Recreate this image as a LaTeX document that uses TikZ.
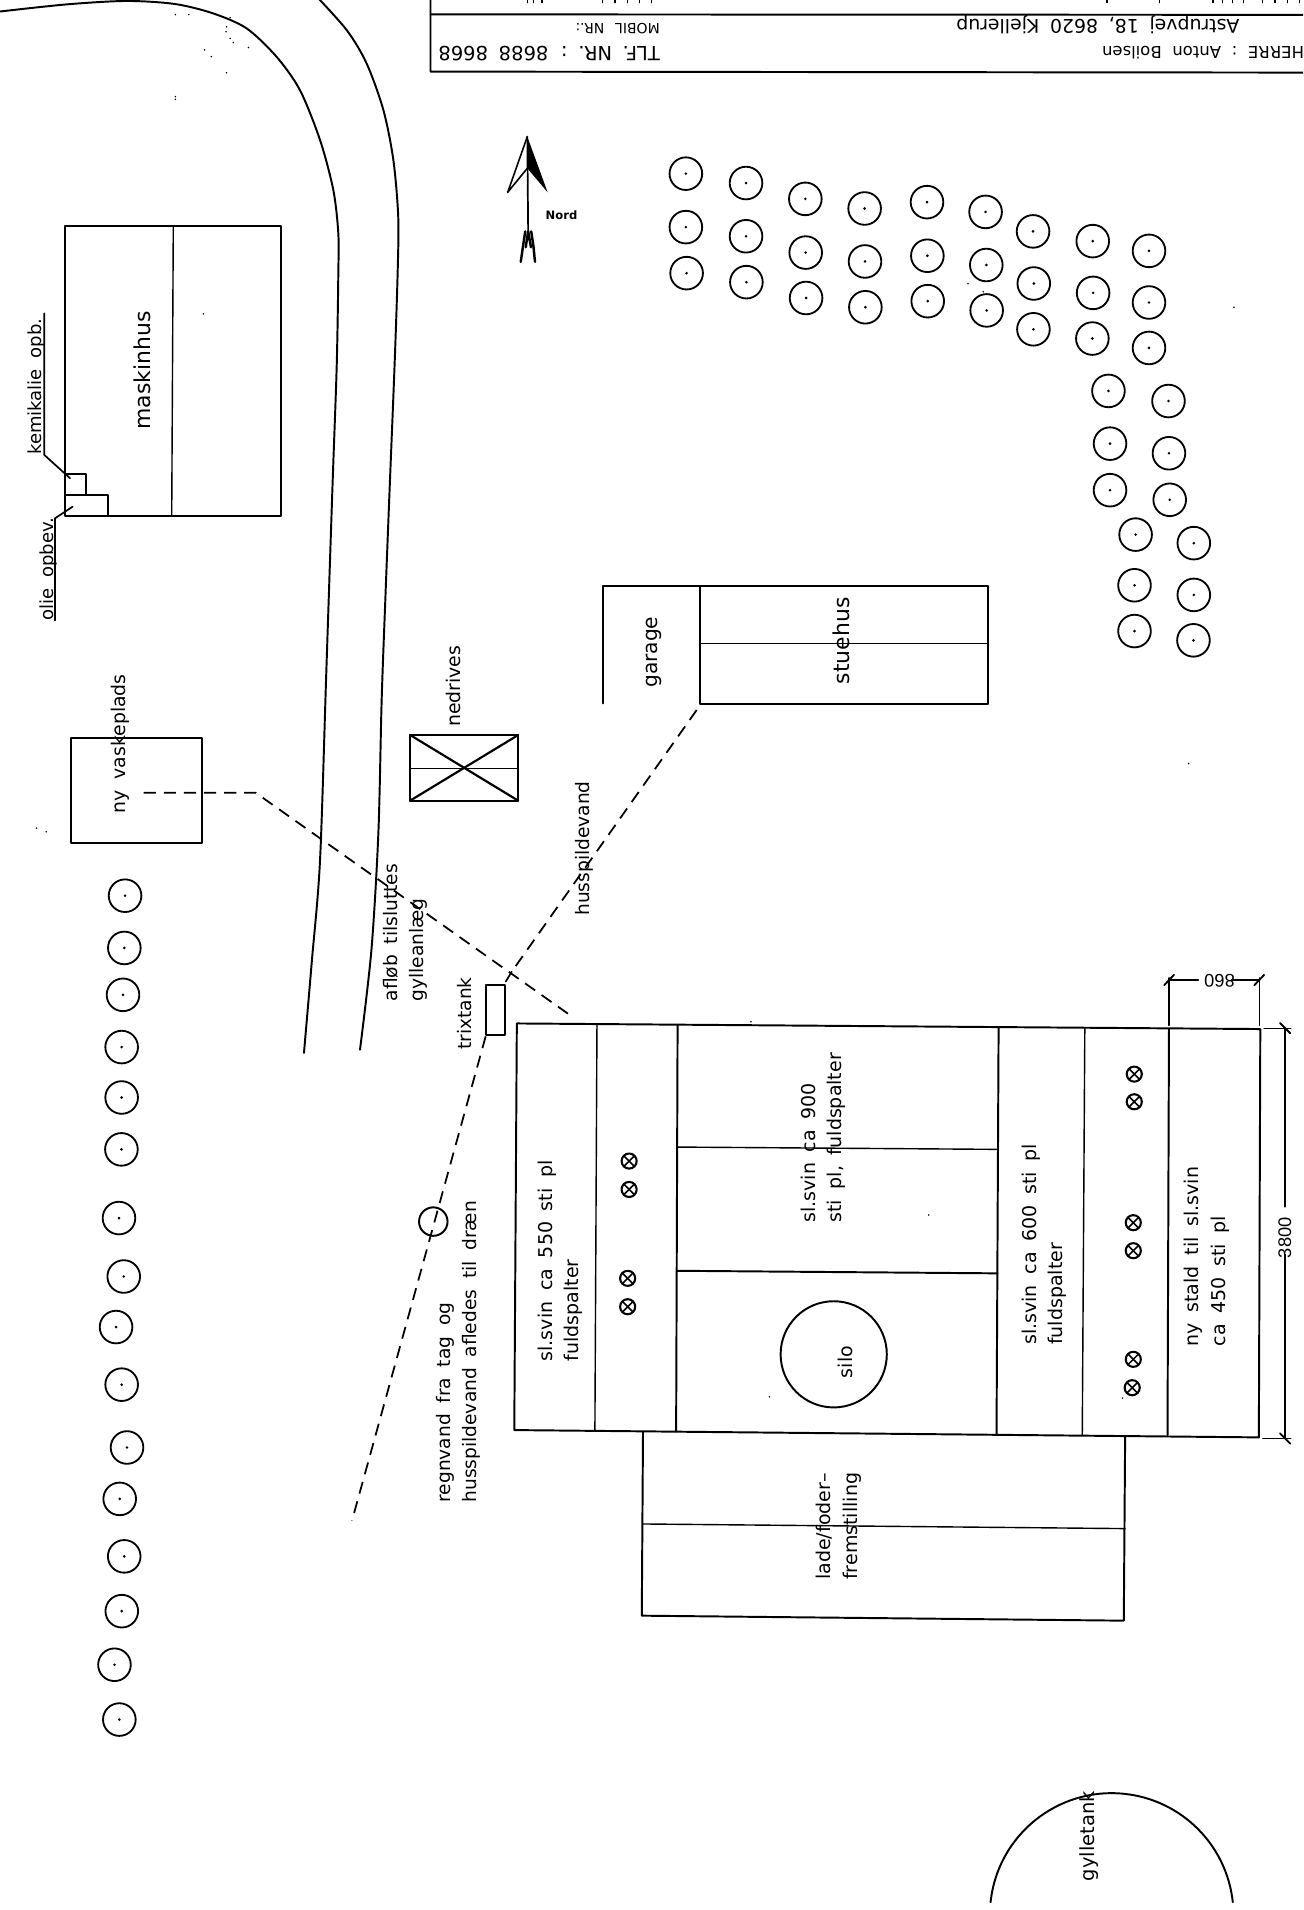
\documentclass[tikz,border=0pt]{standalone}
\usepackage{fontspec}
\setmainfont{DejaVu Sans}
\newfontfamily\dimfont{Liberation Sans}
\begin{document}
\begin{tikzpicture}[x=1pt,y=-1pt,line join=round,line cap=round,
  wall/.style={line width=1.6pt},
  thin wall/.style={line width=1.15pt},
  leader/.style={line width=1.4pt},
  dashline/.style={line width=1.45pt,dash pattern=on 10pt off 6.5pt,line cap=butt},
  rot/.style={rotate=90,anchor=north west,inner sep=0pt,align=left,
    font=\fontsize{#1}{21.6}\selectfont},
  rot/.default=15.6,
  upside/.style={rotate=180,inner sep=0pt,anchor=base west,font=\fontsize{#1}{18}\selectfont},
  dim/.style={inner sep=0pt,font=\dimfont\fontsize{15}{16}\selectfont}]
\spaceskip=8.8pt\relax
\useasboundingbox (0,0) rectangle (1070,1568.4);
\clip (0,0) rectangle (1070,1568.4);

% --- title block
\draw[wall] (353.5,-5) -- (353.5,58.8) -- (1075,59.6);
\draw[wall] (353.5,11.8) -- (1075,12.2);
\node[upside=13.5] (owner) at (1071,38.5) {HERRE : Anton Boilsen};
\node[upside=15.5] (addr) at (1018,16) {Astrupvej 18, 8620 Kjellerup};
\node[upside=16] (tlf) at (542,38) {TLF. NR. : 8688 8668};
\node[upside=11.5] (mobil) at (542,19) {MOBIL NR.:};
\foreach \cx in {433,438,445,495,505,515,525,535,909,952,996,1004,1012,1021,1037,1047,1057,1067}{
  \draw[line width=1pt] (\cx,-1) -- (\cx,2.2);
}

% --- road
\draw[wall] plot[smooth] coordinates {(-3,9.8) (54.7,3.6) (104,0.8) (143.7,3.3) (175,11) (202.5,23.3) (227,46.5) (246.3,74) (262.8,115) (273.7,156) (277.8,191.6) (277.8,225) (276.5,300) (273,400) (268,550) (262.8,706.2) (256,790) (249.6,864.6)};
\draw[wall] plot[smooth] coordinates {(258,-5) (284.6,24.6) (301,52) (314.8,90.3) (323,131.4) (327,178) (326.5,225) (324,300) (320,400) (316.5,490) (313.4,574.8) (310.7,684) (305,780) (295.6,862)};

% --- maskinhus
\draw[wall] (53.6,185.5) rectangle (230.5,423.7);
\draw[thin wall] (142.3,185.5) -- (141,423.7);
\draw[wall] (53.6,389.2) -| (70.6,406.4);
\draw[wall] (53.6,406.4) -- (89,406.4) -- (89,423.7);
\draw[leader] (57.5,392.7) -- (36.4,373.6) -- (36.4,257.3);
\draw[leader] (59.7,416) -- (45.2,425.6) -- (45.2,509.6);
\node[rot=14.8] (kemi) at (23,373.6) {kemikalie opb.};
\node[rot=14.8] (olie) at (32.4,509.6) {olie opbev.};
\node[rot=18] (maskinhus) at (109.5,353) {maskinhus};

% --- vaskeplads
\draw[wall] (58,606) rectangle (166,692);
\node[rot=15.5] (vask) at (91,668) {ny vaskeplads};

% --- nedrives
\draw[wall] (336.7,603.5) rectangle (425.6,657.5);
\draw[thin wall] (336.7,630.9) -- (425.6,630.9);
\draw[line width=1.8pt] (336.7,603.5) -- (425.6,657.5) (336.7,657.5) -- (425.6,603.5);
\node[rot=15.5] (nedrives) at (366,597) {nedrives};

% --- garage, stuehus
\draw[wall] (495,577.5) -- (495,481.5) -- (811,481.5) -- (811,578) -- (575,578) -- (575,481.5);
\draw[thin wall] (575,528.6) -- (811,528.6);
\node[rot=16.6] (garage) at (530,565) {garage};
\node[rot=18] (stuehus) at (684,562) {stuehus};

% --- trixtank and drains
\draw[wall] (398.8,809.2) rectangle (415,849.5);
\coordinate (house) at (572.1,583);
\coordinate (kink) at (420.2,797.9);
\coordinate (tanktop) at (415.3,806);
\coordinate (tankbot) at (398.8,851);
\coordinate (washa) at (118,651);
\coordinate (washb) at (210,651);
\coordinate (barntop) at (471.5,836);
\coordinate (rainend) at (289,1248.8);
\draw[dashline] (house) -- (kink);
\draw[leader] (kink) -- (tanktop);
\draw[dashline] (washa) -- (washb) -- (barntop);
\draw[dashline] (tankbot) -- (rainend);
\draw[wall] (355.8,1003.1) circle (11.7);

\node[rot=15.3] (hussp) at (472,752.2) {husspildevand};
\node[rot=15.3] (aflob) at (314.5,822.5) {afløb tilsluttes\\gylleanlæg};
\node[rot=15.3] (trix) at (375.6,862.2) {trixtank};
\node[rot=15.3] (regn) at (358,1234) {regnvand fra tag og\\husspildevand afledes til dræn};

% --- main barn
\draw[wall] (424.4,840.4) -- (1034.9,845) -- (1033.7,1180.3) -- (422.3,1174.3) -- cycle;
\draw[thin wall] (490.2,841.2) -- (488.5,1174.9);
\draw[wall] (556.4,841.7) -- (555.2,1175.5);
\draw[wall] (820,843.6) -- (818.3,1177.9);
\draw[thin wall] (890.8,844.5) -- (888.7,1178.4);
\draw[wall] (959.9,844.8) -- (958.7,1179.2);
\draw[thin wall] (556.4,941.9) -- (819.6,943.8);
\draw[wall] (556,1043.5) -- (819.1,1045.6);
\draw[wall] (684.6,1112.1) circle (43.6);
\node[rot=15.6,anchor=center] (silo) at (694,1114) {silo};
\node[rot] (l550) at (441.6,1118) {sl.svin ca 550 sti pl\\fuldspalter};
\node[rot] (l900) at (657.3,1004) {sl.svin ca 900\\sti pl, fuldspalter};
\node[rot] (l600) at (839.2,1104.5) {sl.svin ca 600 sti pl\\fuldspalter};
\node[rot] (l450) at (972.4,1105.8) {ny stald til sl.svin\\ca 450 sti pl};

% --- pens (crossed circles)
\foreach \px/\py in {516.6/953.4,516.6/976.7,515.4/1049.7,515.4/1073,
  931.4/882,931.4/904.7,930.6/1004,930.6/1027,930.6/1116.2,929.7/1139.5}{
  \draw[line width=1.7pt] (\px,\py) circle (6.2);
  \draw[line width=1.3pt] (\px-4.4,\py-4.4) -- (\px+4.4,\py+4.4) (\px-4.4,\py+4.4) -- (\px+4.4,\py-4.4);
}

% --- dimensions
\draw[thin wall] (960,803) -- (960,842) (1034.1,803) -- (1034.1,842);
\draw[thin wall] (960,804.7) -- (984,804.7) (1011.4,804.7) -- (1034.1,804.7);
\draw[line width=1.5pt] (956,809) -- (964,800.5) (1030,809) -- (1038,800.5);
\node[dim,rotate=180] (d860) at (997,805.3) {860};
\draw[thin wall] (1038,844.4) -- (1060,844.4) (1037,1181) -- (1060,1181);
\draw[thin wall] (1055.2,844.4) -- (1055.2,991) (1055.2,1030) -- (1055.2,1181);
\draw[line width=1.5pt] (1051,840) -- (1059.5,848.5) (1051,1177) -- (1059.5,1185.5);
\node[dim,rotate=90] (d3800) at (1055,1012) {3800};

% --- lade
\draw[wall] (528,1176.1) -- (527,1326.7) -- (922.8,1330.8) -- (923.9,1180.2);
\draw[thin wall] (528,1251.4) -- (923.9,1255.2);
\node[rot=15.6] (lade) at (670.3,1297.4) {lade/foder–\\fremstilling};

% --- gylletank
\draw[wall] (813.4,1562) arc[start angle=186,end angle=354,x radius=100,y radius=100];
\node[rot=16] (gylle) at (886,1545) {gylletank};

% --- north arrow
\draw[line width=1.3pt] (433,112.2) -- (416.9,157.9) -- (433,138.2);
\fill (433,112.2) -- (449.7,157.9) -- (433,138.2) -- cycle;
\draw[line width=1.4pt] (433,112.2) -- (433.7,190.2);
\draw[line width=2pt] (431.3,190) -- (429.5,202) -- (427.6,215);
\draw[line width=2pt] (436.2,190) -- (438,202) -- (439.3,215);
\draw[line width=2pt] (433.7,190) -- (431.7,203) (433.7,190) -- (436,203);
\node[inner sep=0pt,font=\bfseries\fontsize{9.5}{11}\selectfont] (nord) at (465.5,176.5) {Nord};

% --- trees
\foreach \tx/\ty in {563.2/142.6,563.2/186.5,563.8/224.3,612.6/150.3,612.6/194,612.9/231.7,
  661.3/163.3,661.6/207.4,661.9/244.7,710/171.2,710.3/214.7,710.6/252.3,
  761.2/166,761.5/210,761.8/247.3,809.3/174,809.9/217.6,810.2/254.9,
  848.3/190,848.9/232.8,848.6/270.4,897.3/198,897.6/240.5,897/278,
  943.5/206,943.5/248.4,943.5/285.7,910.2/321,911.5/364.3,911.5/402.5,
  959.5/329.3,959.9/372.2,960.5/410.4,932.5/439,931.6/480.6,931.6/518.2,
  980.3/446,980.3/488.5,980/525.8,
  102.7/735.5,102.1/778.4,101/816.9,99.9/859.8,99.9/901.2,99.7/943.8,
  97.7/1000.2,101.6/1048.2,95.3/1089.7,99.9/1137,104.3/1188.6,98.3/1230.8,
  102/1278,100/1323,94/1367,98/1412}{
  \draw[line width=1.5pt] (\tx,\ty) circle (13.4);
  \fill (\tx,\ty) circle (1.2);
}

% --- scan specks
\foreach \sx/\sy in {144/3,144/12,155/12,189/14.5,186/22,185.6/26,189/31.5,191.6/35,168/41,173.5/46.5,204/39,186/59.7,144/79.4,144/81.6,167/257.8,762.6/997.7,631.8/1147,921.8/1148,794.8/233,807.4/239.6,1013.3/252.3,616.7/839,976/627,30/680,38/683}{
  \fill (\sx,\sy) circle (0.7);
}
\end{tikzpicture}
\end{document}
